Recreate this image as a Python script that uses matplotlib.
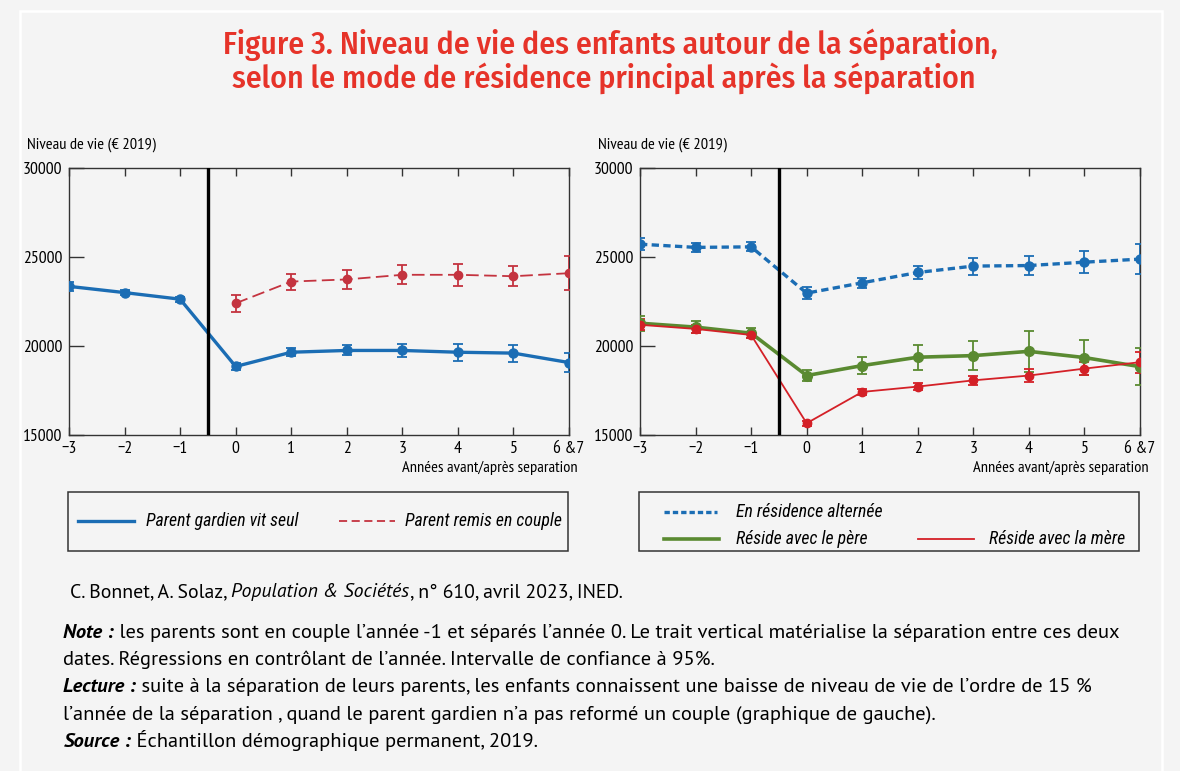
import numpy as np
import matplotlib
matplotlib.use("Agg")
import matplotlib.pyplot as plt
from matplotlib.transforms import IdentityTransform
from matplotlib.patches import Rectangle
from matplotlib.lines import Line2D

# ---------------------------------------------------------------------
# Data
years = [-3, -2, -1, 0, 1, 2, 3, 4, 5, 6]
year_labels = ['−3', '−2', '−1', '0', '1', '2', '3', '4', '5', '6 &7']

seul = [23350, 23000, 22630, 18850, 19650, 19750, 19750, 19650, 19600, 19070]
seul_err = [250, 150, 150, 180, 220, 280, 370, 470, 480, 530]

couple_years = [0, 1, 2, 3, 4, 5, 6]
couple = [22400, 23620, 23740, 24000, 24000, 23920, 24090]
couple_err = [470, 450, 510, 530, 620, 550, 940]

alternee = [25720, 25540, 25570, 22970, 23550, 24130, 24490, 24520, 24710, 24880]
alternee_err = [350, 250, 250, 340, 280, 360, 480, 530, 630, 840]
pere = [21280, 21060, 20720, 18340, 18900, 19370, 19460, 19700, 19350, 18840]
pere_err = [410, 320, 280, 320, 470, 700, 830, 1150, 970, 1020]
mere = [21190, 20960, 20620, 15660, 17420, 17720, 18070, 18340, 18730, 19090]
mere_err = [300, 230, 190, 150, 150, 190, 260, 340, 380, 600]

# Styles
BG = '#f4f4f4'
BLUE = '#1b6db4'
DARKRED = '#c4333f'
GREEN = '#5a8a31'
RED = '#d42027'
TITLE_RED = '#e63329'
COND = ['PT Sans Narrow', 'Roboto Condensed', 'DejaVu Sans']
COND_IT = ['Roboto Condensed', 'DejaVu Sans']
BODY = ['PT Sans', 'Lato', 'DejaVu Sans']
HEAD = ['Fira Sans Condensed', 'Fira Sans', 'Roboto', 'DejaVu Sans']

W, H = 1180, 771
fig = plt.figure(figsize=(W / 100, H / 100), dpi=100, facecolor=BG)
renderer = fig.canvas.get_renderer()

def px(x, y):
    return x / W, 1 - y / H

def fit_size(s, target, **kw):
    # font size that makes string s about target pixels wide
    t = fig.text(0, 0, s, fontsize=10, **kw)
    w = t.get_window_extent(renderer).width
    t.remove()
    return 10 * target / w

def rich(x, y, parts, size, family=BODY, draw=True):
    # text pieces one after another, in pixels (y = baseline from top)
    x0 = x
    for s, style, weight in parts:
        kw = dict(fontsize=size, family=family, style=style, weight=weight,
                  transform=IdentityTransform())
        if draw:
            fig.text(x, H - y, s, va='baseline', color='black', **kw)
        probe = fig.text(0, 0, s + '|', **kw)
        bar = fig.text(0, 0, '|', **kw)
        x += probe.get_window_extent(renderer).width - bar.get_window_extent(renderer).width
        probe.remove()
        bar.remove()
    return x - x0

# white frame
fig.add_artist(Rectangle(px(20, 800), (1162 - 20) / W, (800 - 11) / H,
                         transform=fig.transFigure, fill=False,
                         edgecolor='white', lw=1.8))

# Title
title1 = 'Figure 3. Niveau de vie des enfants autour de la séparation,'
title2 = 'selon le mode de résidence principal après la séparation'
tsize = fit_size(title1, 776, family=HEAD, weight='medium')
fig.text(610 / W, 1 - 45 / H, title1, ha='center', va='center', color=TITLE_RED,
         fontsize=tsize, family=HEAD, weight='medium')
fig.text(604 / W, 1 - 78 / H, title2, ha='center', va='center', color=TITLE_RED,
         fontsize=tsize, family=HEAD, weight='medium')

# condensed label size from the x axis title width
csize = fit_size('Années avant/après separation', 175, family=COND)

def setup(ax, left_px):
    ax.set_facecolor(BG)
    ax.set_xlim(-3, 6)
    ax.set_ylim(15000, 30000)
    ax.set_yticks([15000, 20000, 25000, 30000])
    ax.set_xticks(years)
    ax.set_xticklabels(year_labels, fontsize=csize * 1.08, family=COND)
    ax.set_yticklabels(['15000', '20000', '25000', '30000'], fontsize=csize * 1.08,
                       family=COND)
    ax.tick_params(axis='y', direction='in', length=11, width=1, pad=5, color='#333333')
    ax.tick_params(axis='x', direction='in', length=6, width=1, pad=4, top=True,
                   bottom=True, color='#333333')
    for sp in ax.spines.values():
        sp.set_color('#333333')
        sp.set_linewidth(1)
    ax.axvline(-0.5, color='black', lw=2.4, zorder=5)
    ax.text(1.017, -0.124, 'Années avant/après separation', transform=ax.transAxes,
            ha='right', va='center', fontsize=csize, family=COND)
    fig.text((left_px - 42) / W, 1 - 145 / H, 'Niveau de vie (€ 2019)', ha='left',
             va='center', fontsize=csize, family=COND)

def series(ax, x, y, err, color, lw, ls, dashes=None, ms=6.5, z=3):
    kw = dict(color=color, lw=lw, ls=ls, marker='o', ms=ms, zorder=z,
              ecolor=color, elinewidth=1.3, capsize=3.5, capthick=1.3)
    if dashes is not None:
        kw['dashes'] = dashes
    return ax.errorbar(x, y, yerr=err, **kw)

# Left panel
ax1 = fig.add_axes([69 / W, 1 - 435 / H, 500 / W, 267 / H])
setup(ax1, 69)
series(ax1, years, seul, seul_err, BLUE, 2.4, '-')
series(ax1, couple_years, couple, couple_err, DARKRED, 1.3, '--', dashes=(7, 3), ms=6)

# Right panel
ax2 = fig.add_axes([640 / W, 1 - 435 / H, 500 / W, 267 / H])
setup(ax2, 640)
series(ax2, years, alternee, alternee_err, BLUE, 2.4, '--', dashes=(2.2, 1.3))
series(ax2, years, pere, pere_err, GREEN, 2.6, '-', ms=7)
series(ax2, years, mere, mere_err, RED, 1.3, '-', ms=6)

# Legends (boxes drawn in pixel coordinates)
lsize = fit_size('Parent gardien vit seul', 152, family=COND_IT, style='italic')

def box(x0, y0, x1, y1):
    fig.add_artist(Rectangle(px(x0, y1), (x1 - x0) / W, (y1 - y0) / H,
                             transform=fig.transFigure, fill=False,
                             edgecolor='#333333', lw=1.1))

def entry(x0, x1, y, tx, label, color, lw, ls, dashes=None):
    ln = Line2D([x0 / W, x1 / W], [1 - y / H, 1 - y / H], color=color, lw=lw, ls=ls,
                transform=fig.transFigure)
    if dashes is not None:
        ln.set_dashes(dashes)
    fig.add_artist(ln)
    fig.text(tx / W, 1 - y / H, label, ha='left', va='center', fontsize=lsize,
             family=COND_IT, style='italic')

box(68, 492, 568, 551)
entry(78, 134, 521, 146, 'Parent gardien vit seul', BLUE, 2.4, '-')
entry(339, 395, 521, 405, 'Parent remis en couple', DARKRED, 1.3, '--', (4.5, 2.5))

box(639, 492, 1139, 551)
entry(664, 717, 512, 736, 'En résidence alternée', BLUE, 2.4, '--', (1.6, 0.9))
entry(664, 719, 539, 736, 'Réside avec le père', GREEN, 2.6, '-')
entry(918, 974, 539, 989, 'Réside avec la mère', RED, 1.3, '-')

# Source and notes
source = [('C. Bonnet, A. Solaz, ', 'normal', 'normal'),
          ('Population & Sociétés', 'italic', 'normal'),
          (', n° 610, avril 2023, INED.', 'normal', 'normal')]
ssize = 10 * 552 / rich(0, 0, source, 10, draw=False)
rich(70, 597, source, ssize)

notes = [
    [('Note :', 'italic', 'bold'),
     (' les parents sont en couple l’année -1 et séparés l’année 0. Le trait vertical '
      'matérialise la séparation entre ces deux', 'normal', 'normal')],
    [('dates. Régressions en contrôlant de l’année. Intervalle de confiance à 95%.',
      'normal', 'normal')],
    [('Lecture :', 'italic', 'bold'),
     (' suite à la séparation de leurs parents, les enfants connaissent une baisse de '
      'niveau de vie de l’ordre de 15 %', 'normal', 'normal')],
    [('l’année de la séparation , quand le parent gardien n’a pas reformé un couple '
      '(graphique de gauche).', 'normal', 'normal')],
    [('Source :', 'italic', 'bold'),
     (' Échantillon démographique permanent, 2019.', 'normal', 'normal')],
]
nsize = 10 * 1059 / rich(0, 0, notes[0], 10, draw=False)
for i, parts in enumerate(notes):
    rich(63, 638 + 27.2 * i, parts, nsize)

fig.savefig('out.png', dpi=100, facecolor=BG)
